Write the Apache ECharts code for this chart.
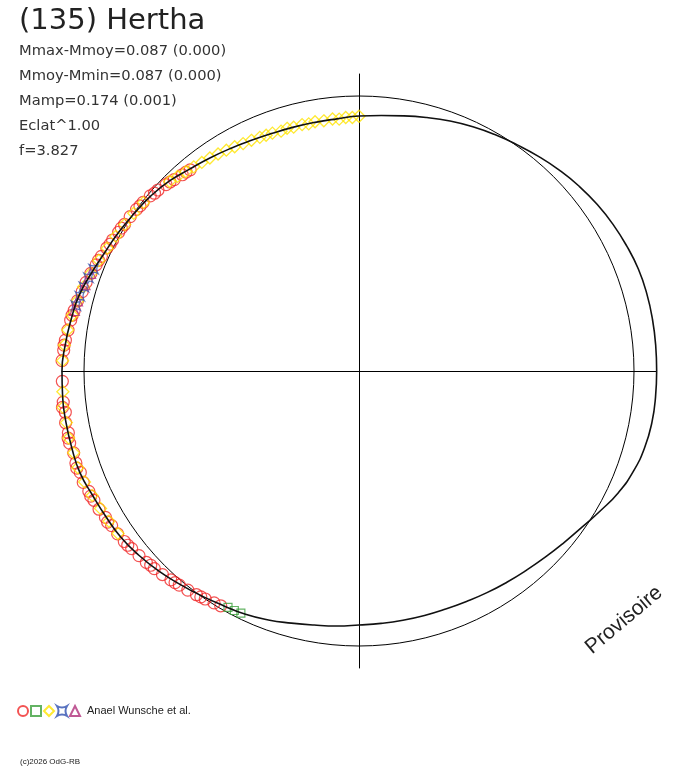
<!DOCTYPE html>
<html>
<head>
<meta charset="utf-8">
<script src="https://cdn.jsdelivr.net/npm/echarts@6/dist/echarts.min.js"></script>
<style>
  html, body { margin: 0; padding: 0; background: #fff; }
  #chart { width: 688px; height: 768px; }
</style>
</head>
<body>
<div id="chart"></div>
<script>
// model lightcurve: phase angle (deg) and magnitude offset from Mmoy, every 5 deg
var modelPhase = [0, 5, 10, 15, 20, 25, 30, 35, 40, 45, 50, 55, 60, 65, 70, 75, 80, 85,
                  90, 95, 100, 105, 110, 115, 120, 125, 130, 135, 140, 145, 150, 155, 160, 165, 170, 175,
                  180, 185, 190, 195, 200, 205, 210, 215, 220, 225, 230, 235, 240, 245, 250, 255, 260, 265,
                  270, 275, 280, 285, 290, 295, 300, 305, 310, 315, 320, 325, 330, 335, 340, 345, 350, 355];
var modelMag = [-0.0860, -0.0865, -0.0872, -0.0872, -0.0850, -0.0780, -0.0700, -0.0600, -0.0480, -0.0340,
                -0.0190, -0.0040, 0.0090, 0.0220, 0.0360, 0.0510, 0.0650, 0.0760,
                0.0820, 0.0900, 0.0927, 0.0927, 0.0905, 0.0841, 0.0735, 0.0609, 0.0464, 0.0260, 0.0119, 0.0020,
                -0.0098, -0.0215, -0.0388, -0.0577, -0.0670, -0.0762,
                -0.0836, -0.0854, -0.0854, -0.0847, -0.0836, -0.0725, -0.0651, -0.0592, -0.0464, -0.0311,
                -0.0137, 0.0020, 0.0159, 0.0260, 0.0402, 0.0567, 0.0693, 0.0777,
                0.0862, 0.0890, 0.0900, 0.0900, 0.0890, 0.0850, 0.0780, 0.0700, 0.0600, 0.0470, 0.0310,
                0.0110, -0.0160, -0.0450, -0.0660, -0.0790, -0.0850, -0.0860];

// observations [phase deg, mag offset]
var obsRed = [[130, 0.050], [131, 0.046], [132, 0.044], [134, 0.036], [135, 0.031], [136, 0.027], [138, 0.018],
  [139, 0.016], [140, 0.010], [142, 0.004], [143, 0.003], [144, 0.000], [146, -0.004], [148, -0.006],
  [149, -0.009], [150, -0.010], [152, -0.016], [153, -0.017], [154, -0.022], [156, -0.027], [157, -0.031],
  [158, -0.033], [160, -0.040], [162, -0.046], [164, -0.050], [166, -0.058], [168, -0.062], [169, -0.066],
  [170, -0.068], [172, -0.072], [174, -0.077], [175, -0.080], [176, -0.080], [178, -0.084], [180, -0.086],
  [181, -0.089], [182, -0.083], [184, -0.088], [186, -0.085], [187, -0.090], [188, -0.082], [190, -0.087],
  [192, -0.084], [193, -0.089], [194, -0.088], [196, -0.083], [198, -0.086], [199, -0.089], [200, -0.082],
  [202, -0.085], [204, -0.079], [205, -0.080], [206, -0.076], [208, -0.074], [210, -0.068], [211, -0.070],
  [212, -0.064], [214, -0.062], [216, -0.058], [217, -0.056], [218, -0.052], [220, -0.047], [222, -0.043],
  [223, -0.038], [224, -0.037], [226, -0.031], [228, -0.024], [229, -0.021], [230, -0.018], [232, -0.012],
  [234, -0.006], [235, -0.003], [236, 0.000], [238, 0.006], [239.5, 0.010]];
var obsGreen = [[241, 0.019], [242.5, 0.020], [244, 0.022]];
var obsYellow = [[90, 0.083], [91.5, 0.088], [93, 0.087], [94.5, 0.092], [96, 0.089], [98, 0.092], [100, 0.090],
  [101.5, 0.094], [103, 0.091], [105, 0.093], [106.5, 0.090], [108, 0.094], [110, 0.090], [111.5, 0.089],
  [113, 0.087], [115, 0.084], [117, 0.081], [119, 0.076], [121, 0.071], [123, 0.066], [125, 0.061],
  [127, 0.056], [129, 0.050], [131, 0.044], [133, 0.036], [135, 0.028],
  [142, 0.006], [145, -0.000], [148, -0.005], [151, -0.012], [154, -0.020], [157, -0.030], [160, -0.040],
  [163, -0.050], [166, -0.058], [169, -0.065], [172, -0.073], [175, -0.079], [178, -0.082], [181, -0.087],
  [184, -0.083], [187, -0.088], [190, -0.084], [193, -0.087], [196, -0.083], [199, -0.085], [202, -0.080],
  [205, -0.074], [208, -0.068], [211, -0.064], [214, -0.060]];
var obsBlue = [[159, -0.036], [161, -0.043], [163, -0.049], [165, -0.054], [167, -0.060]];
var obsPurple = [[160, -0.041], [162.5, -0.047], [166, -0.058], [168, -0.061]];

var infoLines = ['Mmax-Mmoy=0.087 (0.000)', 'Mmoy-Mmin=0.087 (0.000)', 'Mamp=0.174 (0.001)', 'Eclat^1.00', 'f=3.827'];

// polar (phase, mag) -> plane, radius = relative flux
function toXY(a, m) {
    var r = Math.pow(10, -0.4 * m);
    var t = a * Math.PI / 180;
    return [r * Math.cos(t), r * Math.sin(t)];
}

var curve = [];
modelPhase.forEach(function (a, i) {
    curve.push(toXY(a, modelMag[i]));
});
curve.push(curve[0]);

function conv(list) {
    return list.map(function (p) { return toXY(p[0], p[1]); });
}

var hollow = function (c, w) {
    return { color: 'rgba(0,0,0,0)', borderColor: c, borderWidth: w || 1 };
};

var chart = echarts.init(document.getElementById('chart'));

var texts = [{
    type: 'text', left: 19, top: 7,
    style: { text: '(135) Hertha', fill: '#222', font: '29px "DejaVu Sans"' }
}];
infoLines.forEach(function (t, i) {
    texts.push({
        type: 'text', left: 19, top: 44 + i * 25,
        style: { text: t, fill: '#333', font: '14.7px "DejaVu Sans"' }
    });
});
texts.push({
    type: 'text', x: 624, y: 620, rotation: 40 * Math.PI / 180,
    style: { text: 'Provisoire', fill: '#222', font: '21px "Liberation Sans"', align: 'center', verticalAlign: 'middle' }
});
texts.push({
    type: 'text', left: 20, top: 758,
    style: { text: '(c)2026 OdG-RB', fill: '#222', font: '8px "Liberation Sans"' }
});

var option = {
    animation: false,
    backgroundColor: '#fff',
    grid: { left: 62, right: 32, top: 74, bottom: 100 },
    xAxis: {
        type: 'value', min: -1.08, max: 1.08,
        axisLine: { onZero: true, lineStyle: { color: '#000', width: 1 } },
        axisTick: { show: false }, axisLabel: { show: false }, splitLine: { show: false }
    },
    yAxis: {
        type: 'value', min: -1.08, max: 1.08,
        axisLine: { onZero: true, lineStyle: { color: '#000', width: 1 } },
        axisTick: { show: false }, axisLabel: { show: false }, splitLine: { show: false }
    },
    legend: {
        left: 12, top: 700, itemWidth: 10, itemHeight: 10, itemGap: 1,
        data: ['o', 's', 'd', 'x', 't'],
        formatter: function (name) { return name === 't' ? 'Anael Wunsche et al.' : ''; },
        textStyle: { fontSize: 11, color: '#222', fontFamily: 'Liberation Sans', padding: [0, 0, 0, 2] }
    },
    graphic: texts,
    series: [
        { name: 'o', type: 'scatter', symbol: 'circle', symbolSize: 12, data: conv(obsRed), itemStyle: hollow('#f02828', 1.2) },
        { name: 'd', type: 'scatter', symbol: 'diamond', symbolSize: 12, data: conv(obsYellow), itemStyle: hollow('#ffe400', 1.3) },
        { name: 's', type: 'scatter', symbol: 'rect', symbolSize: 8, data: conv(obsGreen), itemStyle: hollow('#3ca03c', 1.2) },
        { name: 'x', type: 'scatter', symbol: 'path://M0,0 Q5,3 10,0 Q7,5 10,10 Q5,7 0,10 Q3,5 0,0 Z', symbolSize: 9,
          data: conv(obsBlue), itemStyle: hollow('#3050b0', 1.2) },
        { name: 't', type: 'scatter', symbol: 'triangle', symbolSize: 10, data: conv(obsPurple), itemStyle: hollow('#b0307a', 1.2) },
        {
            name: 'model', type: 'line', data: curve, smooth: 0.5, symbol: 'none', z: 5,
            lineStyle: { color: '#111', width: 1.6 }
        }
    ]
};
chart.setOption(option);

// mean-magnitude circle drawn from the axis scales
var c0 = chart.convertToPixel({ gridIndex: 0 }, [0, 0]);
var c1 = chart.convertToPixel({ gridIndex: 0 }, [1, 0]);
chart.setOption({
    graphic: texts.concat([{
        type: 'circle', z: 1,
        shape: { cx: c0[0], cy: c0[1], r: c1[0] - c0[0] },
        style: { fill: 'none', stroke: '#000', lineWidth: 1 }
    }])
});
</script>
</body>
</html>
